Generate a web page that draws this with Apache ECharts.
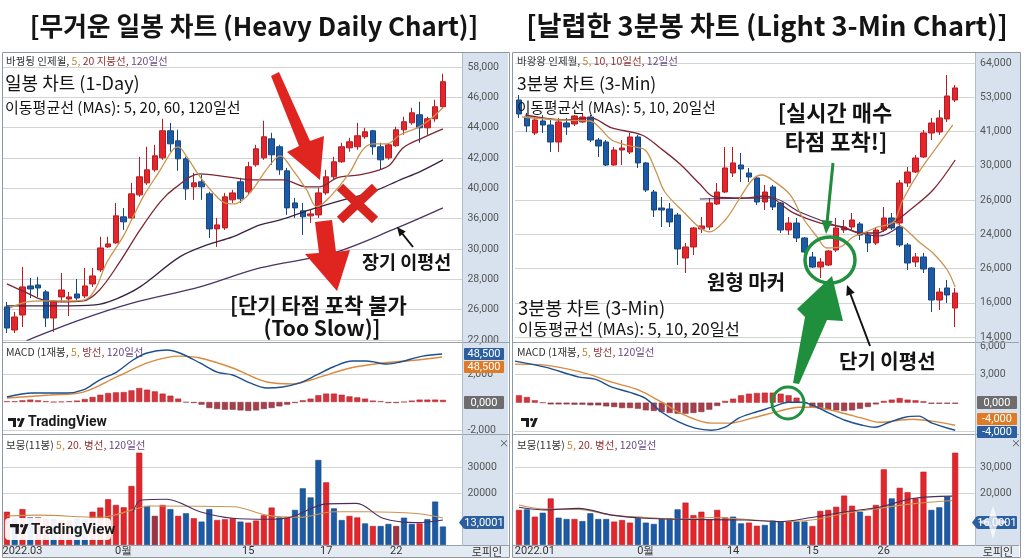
<!DOCTYPE html>
<html>
<head>
<meta charset="utf-8">
<title>일봉 vs 3분봉</title>
<script src="https://cdn.jsdelivr.net/npm/echarts@6.0.0/dist/echarts.min.js"></script>
<style>
html, body { margin: 0; padding: 0; background: #fff; }
#main { width: 1024px; height: 559px; }
</style>
</head>
<body>
<div id="main"></div>
<script>
/*------------ 데이터 : 일봉 (왼쪽) ------------*/
// [open, close, low, high]
var dayOHLC = [
	[26360, 23580, 22920, 27020], [23320, 25040, 22920, 25700], [25300, 29000, 23720, 31640],
	[29130, 28730, 27540, 30180], [29260, 28860, 27680, 30320], [28340, 24900, 23720, 28600],
	[24900, 27150, 23060, 27280], [27680, 28600, 27020, 30840], [27410, 27680, 25170, 28340],
	[28070, 27540, 27280, 30050], [27810, 29130, 27540, 31500], [29390, 30450, 29000, 31500],
	[31240, 34140, 30980, 35600], [34280, 34670, 34140, 35600], [34800, 38370, 34700, 40080],
	[38240, 37580, 36520, 39420], [38100, 41270, 37840, 42720], [41140, 43520, 40880, 46160],
	[42720, 44440, 42460, 47480], [44440, 46290, 44180, 47740], [46020, 49590, 45760, 51170],
	[49590, 47870, 46820, 50640], [48270, 45890, 44310, 49720], [45890, 41930, 40480, 46160],
	[42200, 42720, 40480, 44040], [42860, 42200, 40480, 43780], [41270, 36650, 35460, 41540],
	[36650, 37180, 34280, 38100], [36780, 40880, 36520, 41400], [40480, 41400, 40080, 41800],
	[42860, 40610, 40080, 43380], [41540, 44840, 41140, 45500], [45100, 47210, 44840, 47740],
	[46020, 48800, 45760, 50910], [48530, 46420, 45100, 49320], [47480, 44440, 43780, 47740],
	[44310, 39420, 38500, 44700], [40080, 39420, 38100, 40740], [39030, 38240, 35860, 40080],
	[38370, 38630, 37440, 39160], [38500, 41400, 38100, 42060], [41400, 43520, 41140, 44440],
	[43520, 45500, 43250, 46160], [45500, 47480, 45360, 48000], [47340, 48140, 46820, 48660],
	[47480, 48930, 47080, 50640], [48800, 49460, 48530, 49980], [49590, 47480, 46420, 49720],
	[47480, 45760, 44440, 48000], [46020, 47740, 45760, 48000], [47610, 49720, 47480, 50120],
	[49720, 50780, 49060, 51440], [50640, 51960, 50380, 52620], [51700, 49980, 48000, 53420],
	[49980, 51170, 49060, 51440], [51170, 52760, 50780, 53680], [52760, 56060, 52620, 57110]
];
// 이동평균선 [x(봉 번호), 값]
var dayMa5 = [[0.4,26220],[2.6,27020],[4.9,27150],[8.1,27150],[10,27280],[11.3,28600],[12.8,32160],[14.9,35600],[16.2,38240],[17.5,40880],[19.7,44440],[21.3,47080],[22,47480],[23.1,46160],[24.8,43520],[26.5,41400],[28,40080],[29.3,39950],[30.6,40740],[31.9,42330],[33.5,44700],[35.1,46290],[36.7,44440],[38.5,41800],[39.8,39560],[41.5,40880],[44,44040],[45.7,47080],[47,47870],[48.8,47870],[50.5,49060],[52.7,49980],[54.3,51040],[56,52620]];
var dayMa20 = [[0,29390],[2.3,28340],[4.6,27280],[6.8,27020],[9.8,27150],[11.9,28600],[14.5,32300],[17.1,36520],[19.7,40220],[21.6,42060],[24.8,43910],[28.3,43520],[31.6,43120],[35.5,43120],[38.5,42200],[40.2,42200],[42.4,43380],[45.3,43780],[47.9,44440],[49.2,45100],[50.9,47340],[53.4,48660],[56,49850]];
var dayMa60 = [[0,26490],[6.8,26490],[11.3,26620],[14,27400],[17.1,29000],[22.2,32960],[25.7,34540],[29,35600],[32.5,37180],[35.1,37840],[38.9,39160],[43.7,40610],[47,41540],[50.5,43120],[53,44180],[56,45760]];
var dayMa120 = [[2.5,21900],[9.4,24640],[16.2,26880],[24.8,29000],[32.5,31500],[41.9,33480],[50.1,36780],[56,39420]];
var dayMacd = [[0,360],[3.3,640],[7.7,640],[9.8,860],[11.9,1570],[14.1,2140],[16.2,3000],[18,3500],[20.5,3710],[22.2,3500],[24.8,2790],[27,2140],[29,1930],[31.2,1360],[33.4,1000],[35.4,1070],[37.6,1360],[39.8,1930],[41.9,2500],[44.4,2930],[46.2,2930],[48.8,2710],[50.5,2860],[53.4,3280],[55.9,3430]];
var daySignal = [[0,290],[5.5,500],[9.8,710],[14.1,1790],[18.4,2860],[22.2,3280],[24.8,3140],[29,2430],[33.4,1430],[36.7,1290],[39.8,1710],[44.1,2430],[48.3,2790],[52.7,3000],[55.9,3210]];
var dayHist = [50,50,120,170,120,50,0,20,50,100, 210,360,520,640,690,710,830,1000,880,760, 600,450,240,-30,-70,-190,-430,-500,-550,-550, -600,-640,-600,-500,-430,-310,-190,-70,120,240, 480,600,600,520,400,330,240,100,50,-70, -70,0,100,170,170,170,150];
var dayVol = [12800,10300,13800,10600,10600,10300,9900,9600,9600,10300, 9900,12800,14400,17600,15400,14500,22700,35500,15000,11200, 15400,13800,11200,12200,10300,9000,13800,9600,9900,10300, 9000,8600,9400,11500,14400,10600,10600,13500,21800,18300, 32700,24100,14100,9600,11200,10600,8300,7300,7300,8100, 7300,10500,8100,8300,9900,16700,7100];
var dayVolDir = 'rbrbrrbrrb' + 'brrrrrrrbd' + 'rbrbrbbrrr' + 'brrrrbrbbb' + 'brbbrrbrbb' + 'dbbrbbb';
var dayVolMa5 = [[0,11150],[4,11500],[12,10650],[16.5,13800],[18.3,15000],[29.1,14700],[33.3,11500],[37.6,10650],[42,12800],[46.2,12800],[52.6,12100],[56,10400]];
var dayVolMa20 = [[16.2,12800],[17.3,17300],[20.5,17600],[24.8,12800],[29,10300],[33.4,9900],[36.3,10600],[41.1,15800],[44.9,16000],[48.3,10300],[52.6,8600],[56,9600]];
var dayPriceTicks = ['22,000','26,000','28,000','30,000','36,000','40,000','42,000','44,000','46,000','58,000'];
var dayMacdTicks = ['-2,000', '', '2,000', ''];
var dayVolTicks = ['', '', '20000', '30000', ''];
var dayTickIdx = [2, 15, 31, 41, 50];
var dayTickTxt = ['2022.03', '0월', '15', '17', '22'];

/*------------ 데이터 : 3분봉 (오른쪽) ------------*/
var minOHLC = [
	[55520, 53070, 52370, 56400], [52540, 50970, 49920, 53250], [49740, 52020, 49390, 52540],
	[51840, 51140, 49740, 52890], [51140, 48160, 46410, 52370], [48160, 51670, 46410, 52370],
	[51490, 50790, 49390, 52370], [51320, 52720, 50970, 52890], [51670, 52540, 51490, 53250],
	[52540, 48510, 48160, 52890], [48510, 47460, 45540, 48870], [48160, 44130, 43960, 48510],
	[44130, 46760, 44000, 47290], [46760, 47110, 44130, 48510], [46410, 49040, 46060, 49740],
	[49040, 44490, 43610, 49390], [44490, 39750, 39400, 44660], [39400, 36250, 35020, 39750],
	[36600, 36250, 33270, 38530], [36430, 34150, 33270, 37480], [35370, 29420, 26610, 35720],
	[27840, 29770, 25210, 30470], [29770, 33100, 28370, 33270], [32920, 33450, 32220, 35020],
	[33270, 37480, 32750, 38350], [37300, 39400, 37130, 40980], [39400, 43610, 39230, 47290],
	[42730, 44490, 42030, 47290], [44130, 43430, 41160, 46240], [42730, 42030, 41160, 43610],
	[41860, 37650, 37130, 42210], [37650, 39400, 36250, 40630], [40280, 36780, 36250, 40630],
	[37480, 32750, 32220, 37650], [32750, 33970, 31870, 35020], [33970, 31350, 30640, 34850],
	[31350, 28890, 28720, 31520], [28020, 26260, 26090, 28890], [26260, 27140, 24340, 27840],
	[26610, 29070, 26440, 29240], [29240, 33100, 28890, 34850], [32750, 33270, 32220, 34500],
	[33270, 34500, 32750, 35720], [33800, 31870, 30990, 34150], [31870, 30470, 28890, 32400],
	[30470, 32750, 30120, 33270], [32750, 34850, 32400, 36780], [34850, 33100, 32750, 35720],
	[33970, 40980, 33620, 41510], [40980, 42910, 40280, 43780], [42910, 45360, 42730, 45890],
	[45540, 49740, 45360, 50270], [49740, 51490, 48510, 52370], [49920, 52370, 49390, 53770],
	[52190, 56220, 51670, 59900], [55520, 57630, 55170, 58150]
];
// 48번 봉부터 아래로 갈라지는 두 번째 흐름
var minBranchStart = 48;
var minOHLC2 = [
	[33270, 30120, 29770, 33620], [30120, 26960, 25740, 30470], [27140, 28020, 26260, 28720],
	[28020, 25910, 25210, 28720], [26090, 20480, 18380, 26260], [20480, 21880, 18730, 22590],
	[22590, 21360, 19960, 23990], [19080, 21710, 15750, 22590]
];
var minMa5 = [[0.4,52540],[5.2,52020],[9,51840],[10.2,50620],[11.7,48510],[14,47460],[15.9,46760],[17.2,43260],[18.4,39400],[20.9,35730],[22.7,33270],[24,32400],[26,34500],[27.7,38000],[29.4,41510],[30.6,42380],[32.3,41160],[34.2,38880],[35.8,34850],[37.6,31520],[38.8,29590],[40.5,29770],[42.1,31520],[43.4,32220],[45.2,33270],[47.2,34150],[48.4,38000],[50.6,43260],[52.7,47290],[54.7,51140]];
var minMa5b = [[47.2,34150],[48.4,33270],[50.6,30470],[52.2,28720],[54,25740],[55,22760]];
var minMa10 = [[0.8,52890],[5.8,52020],[9,52370],[11.7,50620],[15.5,49390],[17.8,47110],[20.3,44310],[22.8,40810],[24.7,38530],[28.5,38350],[31,38700],[34.6,35730],[38,33970],[40.9,33270],[43,32220],[45.2,32220],[47.2,33970],[49.3,36250],[52.2,39750],[55,45010]];
var minMa20 = [[22.8,38180],[31.9,38350],[35.4,35900],[40.9,33100],[45.5,31700],[48,33450]];
var minMacd = [[-0.5,4400],[3.3,3760],[7.6,2700],[9.6,2490],[11.7,1640],[13.9,1110],[15.9,480],[18,-1010],[20.2,-2070],[22.2,-2700],[24.3,-2920],[26,-2600],[27.7,-1640],[29.4,-1110],[31.9,-480],[34,50],[35.7,50],[37,-270],[39.1,-1110],[41.1,-1860],[43.3,-2390],[44.9,-2600],[46.7,-2070],[48.7,-1540],[50.4,-1430],[52.1,-2170],[55,-2920]];
var minSignal = [[-0.5,4080],[3.3,3980],[8.3,3130],[11.7,2170],[15.1,1330],[18,50],[20.9,-1330],[24.3,-2170],[26.5,-2170],[29.4,-1640],[32.8,-900],[35.3,-480],[37,-480],[40.4,-1010],[43.3,-1640],[45.4,-2070],[49.6,-1750],[52.1,-1960],[55,-2390]];
var minHist = [780,600,250,0,-180,-180,-180,-210,-210,-280, -280,-390,-460,-570,-570,-640,-810,-880,-990,-1090, -1170,-1170,-1090,-990,-740,-350,180,420,780,950, 1020,1060,1060,950,780,530,0,-460,-640,-740, -810,-880,-810,-640,-460,-180,180,320,490,320, 250,140,-110,-110,-110,-110];
var minVol = [13500,13700,10900,12400,17900,10500,10000,10000,9200,12200, 10000,10000,9000,9600,8600,10300,8600,8100,10300,10300, 13700,16300,11500,12800,9900,13500,10600,10900,8300,8600, 7400,7700,9400,9000,9000,9000,9000,7300,13100,13500, 14700,19000,15100,12800,11200,15400,29100,17900,22000,20300, 17900,28200,13500,14500,18600,35500];
var minVolDir = 'rbrbrbbrbb' + 'bbrrrbbbbb' + 'brrrrrrbbr' + 'rbbbrbbrrr' + 'rrrbrrrbrr' + 'rrbbbr';
var minVolMa5 = [[0,15400],[3.3,13800],[7.5,13700],[11.7,11500],[15.9,10600],[20.1,9900],[24.3,10600],[28.5,9900],[32.7,9000],[36.9,9600],[41.2,12200],[45.4,14100],[49.6,15800],[54.6,17100]];
var minVolMa20 = [[0,14500],[3.3,13500],[7.5,14100],[11.7,11500],[15.9,10300],[20.1,9900],[28.5,9600],[32.7,9000],[36.9,10600],[41.2,12800],[45.4,14500],[49.6,17900],[54.6,18800]];
var minPriceTicks = ['14,000','16,000','26,000','24,000','26,000','30,000','41,000','53,000','64,000'];
var minMacdTicks = ['', '', '3,000', '6,000'];
var minVolTicks = ['', '', '20,000', '30,000', ''];
var minTickIdx = [2, 16, 27, 37, 46];
var minTickTxt = ['2022.01', '0월', '14', '15', '26'];

/*------------ 설정 ------------*/
var N_DAY = 59, N_MIN = 58;   // 칸 수 (오른쪽 여백 포함)
var KR = 'Noto Sans CJK KR';
var C = {
	up: '#e2262c', upB: '#b81c22', dn: '#1d5aa6', dnB: '#16467f', dim: '#9e3344',
	ma5: '#c99450', ma20: '#7d2733', ma60: '#3a2340', ma120: '#4a3563',
	macd: '#1d4f91', sig: '#da8a3c', hp: '#d6333a', hn: '#a6404c', grid: '#d3d3d3'
};

function cats(n) { var a = []; for (var i = 0; i < n; i++) a.push(String(i)); return a; }

function catAx(g, n, idx, txt) {
	var ax = { type: 'category', gridIndex: g, data: cats(n), boundaryGap: true,
		axisLine: { show: false }, axisTick: { show: false }, splitLine: { show: false },
		axisLabel: { show: false } };
	if (idx) {
		ax.axisLabel = { show: true, margin: 1, color: '#333', fontSize: 11, fontFamily: 'Roboto',
			interval: function (i) { return idx.indexOf(i) >= 0; },
			formatter: function (v, i) { var k = idx.indexOf(i); return k >= 0 ? txt[k] : ''; } };
	}
	return ax;
}
function valAx(g, n) {
	return { type: 'value', gridIndex: g, min: -0.5, max: n - 0.5, show: false, splitLine: { show: false } };
}
function yAx(g, min, max, step, ticks, colors, margin) {
	return { type: 'value', gridIndex: g, position: 'right', min: min, max: max, interval: step,
		axisLine: { show: false }, axisTick: { show: false },
		splitLine: { show: true, lineStyle: { color: colors, width: 1 } },
		axisLabel: { margin: margin, color: '#555', fontSize: 10.5, fontFamily: 'Roboto',
			formatter: function (v) { var k = Math.round((v - min) / step); return ticks[k] || ''; } } };
}
function candle(xi, yi, data, extra) {
	var s = { type: 'candlestick', xAxisIndex: xi, yAxisIndex: yi, data: data, barWidth: 6, z: 2, silent: true,
		itemStyle: { color: C.up, color0: C.dn, borderColor: C.upB, borderColor0: C.dnB, borderWidth: 1 } };
	if (extra) for (var k in extra) s[k] = extra[k];
	return s;
}
function lineS(xi, yi, data, color, w) {
	return { type: 'line', xAxisIndex: xi, yAxisIndex: yi, data: data, symbol: 'none', smooth: 0.35,
		lineStyle: { color: color, width: w || 1.3 }, z: 4, silent: true };
}
function histS(xi, yi, vals) {
	return { type: 'bar', xAxisIndex: xi, yAxisIndex: yi, barWidth: 6, z: 2, silent: true,
		data: vals.map(function (v) {
			return { value: v, itemStyle: { color: v >= 0 ? C.hp : C.hn, borderColor: v >= 0 ? '#a8222a' : '#7e2c38', borderWidth: 0.5 } };
		}) };
}
function volS(xi, yi, vals, dir) {
	var fill = { r: C.up, b: C.dn, d: C.dim }, edge = { r: C.upB, b: C.dnB, d: '#74202e' };
	return { type: 'bar', xAxisIndex: xi, yAxisIndex: yi, barWidth: 6, z: 2, silent: true,
		data: vals.map(function (v, i) {
			var d = dir.charAt(i);
			return { value: v, itemStyle: { color: fill[d], borderColor: edge[d], borderWidth: 0.6 } };
		}) };
}

/*------------ 그래픽 요소 ------------*/
var g = [];
function txt(x, y, s, size, o) {
	o = o || {};
	g.push({ type: 'text', x: x, y: y, z: o.z || 100, style: { text: s, fontSize: size, fontWeight: o.bold ? 'bold' : 'normal',
		fontFamily: o.font || KR, fill: o.fill || '#141414', textAlign: o.align || 'left', textVerticalAlign: 'middle' } });
}
function hdr(x, y, parts) {
	var s = '', rich = {};
	parts.forEach(function (p, i) {
		s += '{p' + i + '|' + p[0] + '}';
		rich['p' + i] = { fill: p[1], color: p[1], fontSize: 10.5, fontFamily: KR };
	});
	g.push({ type: 'text', x: x, y: y, z: 60, style: { text: s, rich: rich, fontSize: 10.5, fontFamily: KR, textVerticalAlign: 'middle' } });
}
function rect(x, y, w, h, fill, z, stroke) {
	g.push({ type: 'rect', z: z, shape: { x: x, y: y, width: w, height: h },
		style: stroke ? { fill: 'none', stroke: stroke, lineWidth: 1 } : { fill: fill } });
}
function ln(x1, y1, x2, y2, color, w, z) {
	g.push({ type: 'line', z: z || 50, shape: { x1: x1, y1: y1, x2: x2, y2: y2 }, style: { stroke: color, lineWidth: w || 1 } });
}
function poly(pts, fill, z) {
	g.push({ type: 'polygon', z: z || 100, shape: { points: pts }, style: { fill: fill } });
}
function box(x, y, w, h, fill, s, pointer) {
	g.push({ type: 'rect', z: 90, shape: { x: x, y: y, width: w, height: h, r: 1 }, style: { fill: fill } });
	if (pointer) poly([[x - 5, y + h / 2], [x, y], [x, y + h]], fill, 90);
	txt(x + w / 2, y + h / 2 + 0.5, s, 11, { fill: '#fff', align: 'center', font: 'Roboto', z: 91 });
}
function tvLogo(x, y, s, color) {
	rect(x, y, 8 * s, 3 * s, color, 95);
	rect(x + 5 * s, y, 3 * s, 9 * s, color, 95);
	g.push({ type: 'circle', z: 95, shape: { cx: x + 10.6 * s, cy: y + 1.6 * s, r: 1.6 * s }, style: { fill: color } });
	poly([[x + 10 * s, y + 9 * s], [x + 13.6 * s, y], [x + 16.8 * s, y], [x + 13.2 * s, y + 9 * s]], color, 95);
}

// 제목
txt(254, 26, '[무거운 일봉 차트 (Heavy Daily Chart)]', 25.8, { bold: true, align: 'center' });
txt(767, 26, '[날렵한 3분봉 차트 (Light 3-Min Chart)]', 27.2, { bold: true, align: 'center' });

// 축 배경, 구분선, 테두리
[[3, 463], [513, 976]].forEach(function (p) {
	rect(p[1], 53, 45, 493, '#d7e2ee', -10);
	rect(p[0], 546, 506, 12, '#e5ebf2', -10);
	ln(p[0], 342.5, p[0] + 506, 342.5, '#98a2ad', 1);
	ln(p[0], 434.5, p[0] + 506, 434.5, '#98a2ad', 1);
	ln(p[0], 545.5, p[0] + 506, 545.5, '#98a2ad', 1);
	ln(p[1] - 0.5, 53, p[1] - 0.5, 546, '#b3bdc8', 1);
});
rect(2.5, 52.5, 507, 505, null, 80, '#8e98a3');
rect(512.5, 52.5, 508, 505, null, 80, '#8e98a3');

// 패널 머리글
hdr(6, 61, [['바꿩뒹 인제윌, ', '#333'], ['5, ', '#c08a3c'], ['20 지붕선, ', '#8e3434'], ['120일선', '#6a4a86']]);
hdr(6, 352, [['MACD (1재봉, ', '#333'], ['5, ', '#c08a3c'], ['방선, ', '#8e3434'], ['120일선', '#6a4a86']]);
hdr(6, 445, [['보뭉(11봉) ', '#333'], ['5, ', '#c08a3c'], ['20. 병선, ', '#8e3434'], ['120일선', '#6a4a86']]);
hdr(517, 61, [['바왕왕 인제월, ', '#333'], ['5, ', '#c08a3c'], ['10, 10일선, ', '#8e3434'], ['12일선', '#6a4a86']]);
hdr(517, 352, [['MACD (1재봉, ', '#333'], ['5, ', '#c08a3c'], ['방선, ', '#8e3434'], ['120일선', '#6a4a86']]);
hdr(517, 445, [['보뭉(11봉) ', '#333'], ['5, ', '#c08a3c'], ['20. 병선, ', '#8e3434'], ['120일선', '#6a4a86']]);
txt(504, 443, '×', 10, { fill: '#555', align: 'center', z: 60 });
txt(1016, 443, '×', 10, { fill: '#555', align: 'center', z: 60 });
txt(487, 552, '로피인', 11, { fill: '#333', align: 'center', z: 60 });
txt(998, 552, '로피인', 11, { fill: '#333', align: 'center', z: 60 });

// 가격 표시 상자
box(464, 348, 40, 12, '#2b5f9f', '48,500');
box(464, 361, 40, 12, '#e07b25', '48,500');
box(464, 396, 40, 13, '#6d6d6d', '0,000');
box(464, 516, 40, 13, '#2b5f9f', '13,0001', true);
box(977, 396, 40, 13, '#6d6d6d', '0,000');
box(977, 413, 40, 12, '#e07b25', '-4,000');
box(977, 426, 40, 12, '#2b5f9f', '-4,000');
box(977, 516, 40, 13, '#2b5f9f', '16,0001', true);
poly([[993, 506], [997, 518], [1008, 522], [997, 526], [993, 539], [989, 526], [978, 522], [989, 518]], 'rgba(255,255,255,0.75)', 92);

// TradingView 로고
tvLogo(8, 418, 1, '#1b1b1b');
txt(28, 422, 'TradingView', 14, { bold: true, font: 'Roboto', fill: '#1b1b1b', z: 95 });
g.push({ type: 'rect', z: 94, shape: { x: 5, y: 518, width: 106, height: 22, r: 4 }, style: { fill: 'rgba(255,255,255,0.92)' } });
tvLogo(10, 524, 1.1, '#1b1b1b');
txt(31, 530, 'TradingView', 15, { bold: true, font: 'Roboto', fill: '#1b1b1b', z: 95 });
tvLogo(521, 418, 1, '#1b1b1b');

// 차트 안 설명 글
txt(5, 83, '일봉 차트 (1-Day)', 18);
txt(5, 107, '이동평균선 (MAs): 5, 20, 60, 120일선', 15);
txt(517, 83, '3분봉 차트 (3-Min)', 17.5);
txt(517, 107, '이동평균선 (MAs): 5, 10, 20일선', 14.7);
txt(518, 308, '3분봉 차트 (3-Min)', 18.5);
txt(518, 329, '이동평균선 (MAs): 5, 10, 20일선', 16.4);

// 왼쪽 주석
poly([[271, 76], [279, 72], [310, 141], [324, 136], [320, 180], [287, 152], [299, 146]], '#e02420');
poly([[315, 222], [332, 220], [336, 252], [350, 250], [337, 291], [305, 254], [319, 253]], '#e02420');
ln(340, 187, 375, 220, '#d8231f', 9, 100);
ln(375, 187, 340, 220, '#d8231f', 9, 100);
ln(413, 247, 401, 232, '#111', 2, 100);
poly([[397, 227], [405.7, 231.5], [399.5, 236.5]], '#111');
txt(362, 262, '장기 이평선', 18.5, { bold: true });
txt(230, 305, '[단기 타점 포착 불가', 21, { bold: true });
txt(322, 328, '(Too Slow)]', 21, { bold: true, align: 'center' });

// 오른쪽 주석
txt(835, 113, '[실시간 매수', 22, { bold: true, align: 'center' });
txt(836, 142, '타점 포착!]', 22, { bold: true, align: 'center' });
ln(833, 163, 827, 223, '#1f8b3b', 3, 100);
poly([[826, 234], [832.5, 221], [821.5, 220]], '#1f8b3b');
g.push({ type: 'ellipse', z: 100, shape: { cx: 830, cy: 260, rx: 25, ry: 23 }, style: { fill: 'none', stroke: '#21903f', lineWidth: 3.5 } });
g.push({ type: 'ellipse', z: 100, shape: { cx: 788, cy: 403, rx: 16, ry: 16 }, style: { fill: 'none', stroke: '#21903f', lineWidth: 3 } });
poly([[793, 383], [805, 317], [797, 309], [832, 276], [843, 321], [827, 320], [799, 384]], '#1f8f3e');
txt(707, 282, '원형 마커', 20, { bold: true });
ln(870, 346, 850, 293, '#111', 2, 100);
poly([[847, 285], [854.7, 292.8], [846.3, 296]], '#111');
txt(839, 361, '단기 이평선', 20, { bold: true });

/*------------ echarts ------------*/
var minBranch = minOHLC2.map(function (d, k) { return [minBranchStart + k].concat(d); });

var chart = echarts.init(document.getElementById('main'), null, { renderer: 'canvas' });
chart.setOption({
	animation: false,
	backgroundColor: '#fff',
	grid: [
		{ left: 3, top: 67, width: 459.4, height: 273 },
		{ left: 3, top: 346, width: 459.4, height: 84 },
		{ left: 3, top: 441, width: 459.4, height: 104 },
		{ left: 515, top: 63, width: 460, height: 274 },
		{ left: 515, top: 346, width: 460, height: 85 },
		{ left: 515, top: 441, width: 460, height: 104 }
	].map(function (o) { o.containLabel = false; o.outerBoundsMode = 'none'; return o; }),
	xAxis: [
		catAx(0, N_DAY), catAx(1, N_DAY), catAx(2, N_DAY, dayTickIdx, dayTickTxt),
		catAx(3, N_MIN), catAx(4, N_MIN), catAx(5, N_MIN, minTickIdx, minTickTxt),
		valAx(0, N_DAY), valAx(1, N_DAY), valAx(2, N_DAY),
		valAx(3, N_MIN), valAx(4, N_MIN), valAx(5, N_MIN)
	],
	yAxis: [
		yAx(0, 22000, 58000, 4000, dayPriceTicks, C.grid, 5),
		yAx(1, -2000, 4000, 2000, dayMacdTicks, [C.grid, 'transparent', C.grid, 'transparent'], 5),
		yAx(2, 0, 40000, 10000, dayVolTicks, ['transparent', 'transparent', C.grid, C.grid, 'transparent'], 5),
		yAx(3, 14000, 62000, 6000, minPriceTicks, C.grid, 5),
		yAx(4, -3000, 6000, 3000, minMacdTicks, [C.grid, 'transparent', C.grid, 'transparent'], 5),
		yAx(5, 0, 40000, 10000, minVolTicks, ['transparent', 'transparent', C.grid, C.grid, 'transparent'], 5)
	],
	series: [
		// 일봉
		candle(0, 0, dayOHLC),
		lineS(6, 0, dayMa120, C.ma120, 1.3),
		lineS(6, 0, dayMa60, C.ma60, 1.3),
		lineS(6, 0, dayMa20, C.ma20, 1.3),
		lineS(6, 0, dayMa5, C.ma5, 1.3),
		histS(1, 1, dayHist),
		lineS(7, 1, daySignal, C.sig, 1.4),
		lineS(7, 1, dayMacd, C.macd, 1.4),
		volS(2, 2, dayVol, dayVolDir),
		lineS(8, 2, dayVolMa5, C.ma5, 1.1),
		lineS(8, 2, dayVolMa20, '#4b2c5e', 1.1),
		// 3분봉
		candle(3, 3, minOHLC),
		candle(3, 3, minBranch, { encode: { x: 0, y: [1, 2, 3, 4] } }),
		lineS(9, 3, minMa20, '#4b2c5e', 1.1),
		lineS(9, 3, minMa10, C.ma20, 1.3),
		lineS(9, 3, minMa5, C.ma5, 1.3),
		lineS(9, 3, minMa5b, C.ma5, 1.3),
		histS(4, 4, minHist),
		lineS(10, 4, minSignal, C.sig, 1.4),
		lineS(10, 4, minMacd, C.macd, 1.4),
		volS(5, 5, minVol, minVolDir),
		lineS(11, 5, minVolMa5, C.ma5, 1.1),
		lineS(11, 5, minVolMa20, '#4b2c5e', 1.1)
	],
	graphic: { elements: g }
});
</script>
</body>
</html>
